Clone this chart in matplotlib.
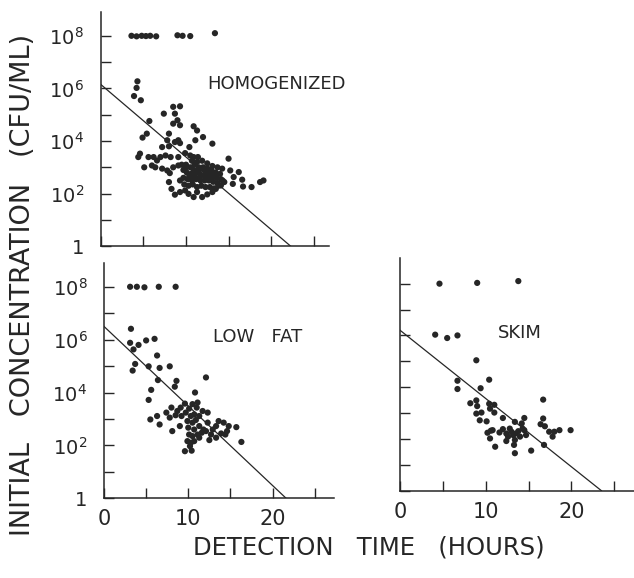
"""Detection time vs initial concentration, three milk types."""

import matplotlib

matplotlib.use("Agg")
import matplotlib.pyplot as plt
import numpy as np
from matplotlib.ticker import FixedLocator, FixedFormatter, NullFormatter

plt.rcParams["font.family"] = ["DejaVu Sans"]
plt.rcParams["mathtext.fontset"] = "dejavusans"

INK = "#262626"

# detection time (hours), log10 of initial concentration (CFU/ML)
homog_hours = [
    3.6, 4.2, 4.8, 5.3, 5.8, 6.5, 9.0, 9.6, 10.5, 13.4,
    4.3, 4.2, 3.9, 4.7, 5.7, 5.4, 4.9, 4.6, 4.4, 5.1, 5.6,
    7.4, 8.5, 9.3, 8.7, 9.0, 8.5, 9.3, 10.9, 11.3, 8.0, 12.0, 7.8, 8.7, 9.1, 9.3,
    11.1, 7.2, 8.0, 10.4, 13.1, 9.9, 10.5, 10.9, 11.4, 15.0,
    6.2, 6.6, 7.0, 7.6, 8.2, 9.1, 6.0, 6.4, 7.2, 7.8, 8.5, 9.1, 8.1,
    15.2, 16.2, 15.6, 16.6, 15.5, 16.7, 17.7, 18.7, 19.1,
    8.0, 8.3, 8.7, 9.3, 9.9, 10.3, 10.9, 11.3, 11.9, 12.5, 13.1, 13.5, 14.1, 14.5,
    9.5, 10.0, 10.5, 11.0, 11.5, 12.0, 12.5, 13.0, 13.5, 14.0,
    9.7, 10.1, 10.6, 11.1, 11.6, 12.1, 12.6, 13.1, 13.6, 14.1,
    9.7, 10.2, 10.7, 11.2, 11.7, 12.2, 12.7, 13.2, 13.7, 14.3,
    9.8, 10.3, 10.8, 11.3, 11.8, 12.3, 12.8, 13.3, 13.8, 9.3,
    10.7, 11.3, 11.9, 12.5, 13.1, 13.7, 14.25, 9.9, 12.1, 12.7,
    10.4, 11.0, 11.6, 12.3, 12.9, 13.4, 10.9, 11.5, 12.4, 13.0,
]
homog_logc = [
    8.0, 7.98, 8.0, 7.99, 8.0, 7.98, 8.02, 8.0, 7.99, 8.1,
    6.27, 6.02, 5.71, 5.55, 4.76, 4.28, 4.13, 3.52, 3.39, 3.0, 3.39,
    5.04, 5.3, 5.32, 5.04, 4.79, 4.66, 4.6, 4.56, 4.4, 4.28, 4.15, 4.03, 3.96, 4.03, 3.92,
    4.03, 3.77, 3.8, 3.77, 3.9, 3.54, 3.45, 3.39, 3.39, 3.33,
    3.39, 3.26, 3.39, 3.45, 3.39, 3.39, 3.07, 3.0, 2.95, 2.88, 3.0, 3.07, 2.78,
    2.88, 2.82, 2.63, 2.53, 2.37, 2.27, 2.25, 2.44, 2.5,
    2.44, 2.18, 1.96, 2.06, 2.12, 1.99, 1.87, 2.06, 1.87, 1.97, 2.06, 2.18, 2.31, 2.44,
    3.1, 3.1, 3.0, 3.1, 3.0, 3.0, 2.95, 2.9, 2.8, 2.75,
    2.9, 2.8, 2.75, 2.8, 2.75, 2.7, 2.75, 2.65, 2.6, 2.55,
    2.6, 2.55, 2.5, 2.55, 2.5, 2.5, 2.5, 2.45, 2.4, 2.5,
    2.35, 2.3, 2.35, 2.25, 2.3, 2.25, 2.25, 2.2, 2.3, 2.5,
    3.25, 3.2, 3.25, 3.15, 3.05, 3.0, 2.95, 2.95, 2.9, 2.65,
    2.65, 2.65, 2.6, 2.6, 2.55, 2.7, 2.9, 2.9, 2.85, 2.8,
]

lowfat_hours = [
    3.1, 3.9, 4.8, 6.5, 8.5,
    3.2, 3.1, 3.5, 4.1, 5.0, 6.0, 3.7, 3.4, 5.3, 6.3, 6.6, 7.8, 6.4, 8.6, 8.4,
    12.1, 5.6, 5.3, 10.8, 5.5, 6.3, 6.6, 8.1, 9.6, 10.4, 16.3, 15.7, 14.8, 14.2,
    13.6, 14.6, 13.9, 13.3, 12.7, 12.3, 12.3, 11.7, 11.1, 11.0, 10.5, 9.6, 9.1,
    8.7, 8.0, 7.4, 7.8, 8.5, 9.2, 9.7, 10.1, 10.3, 10.7, 11.3, 10.9, 10.5, 9.9,
    9.0, 10.0, 10.7, 11.3, 11.8, 10.1, 10.5, 11.1, 11.6, 12.1, 9.9, 10.3, 10.2,
    10.7, 11.3, 12.9, 13.3, 14.4, 12.5,
]
lowfat_logc = [
    8.0, 8.0, 7.98, 8.0, 8.0,
    6.41, 5.88, 5.63, 5.8, 5.97, 6.03, 5.08, 4.83, 4.99, 5.4, 4.93, 4.99, 4.47, 4.44, 4.22,
    4.57, 4.1, 3.72, 4.0, 2.98, 3.11, 2.79, 2.54, 1.78, 1.8, 2.13, 2.69, 2.73, 2.86,
    2.92, 2.54, 2.45, 2.29, 2.41, 2.86, 3.24, 3.3, 3.62, 3.43, 3.56, 3.58, 3.43,
    3.3, 3.43, 3.24, 3.05, 3.14, 3.11, 3.24, 3.39, 3.11, 3.17, 3.11, 2.96, 2.86, 2.92,
    2.73, 2.67, 2.6, 2.73, 2.6, 2.41, 2.35, 2.41, 2.48, 2.54, 2.16, 2.1, 1.97,
    2.16, 2.29, 2.6, 2.73, 2.41, 2.2,
]

skim_hours = [
    4.6, 9.0, 13.8, 4.1, 5.5, 6.7, 8.9, 6.7, 6.7, 10.4, 9.4, 16.7,
    8.2, 8.9, 9.0, 10.4, 11.0, 10.5, 11.0, 8.9, 9.5, 9.3, 10.1,
    12.0, 13.4, 14.5, 14.2, 16.4, 16.9, 16.7, 10.2, 10.6, 10.8, 10.5, 11.1,
    11.6, 12.0, 12.4, 12.6, 12.4, 13.0, 13.2, 13.5, 13.4, 13.3, 13.4,
    13.8, 14.0, 14.5, 14.7, 14.3, 15.3, 16.8, 17.4, 17.8, 18.0, 18.6, 19.9, 12.8,
]
skim_logc = [
    8.0, 8.03, 8.1, 6.03, 5.9, 6.0, 5.04, 4.25, 3.93, 4.29, 3.96, 3.52,
    3.38, 3.49, 3.27, 3.36, 3.32, 3.17, 3.02, 2.98, 3.02, 2.72, 2.68,
    2.81, 2.66, 2.81, 2.6, 2.57, 2.49, 2.79, 2.24, 2.32, 2.34, 2.02, 1.7,
    2.25, 2.38, 2.21, 2.09, 1.92, 2.28, 2.15, 2.21, 1.96, 1.77, 1.45,
    2.3, 2.09, 2.34, 2.15, 2.4, 1.55, 1.77, 2.28, 2.09, 2.28, 2.34, 2.34, 2.4,
]

# regression lines: (hours, log10 conc) at the two ends
homog_fit = ([0.0, 22.3], [6.15, 0.0])
lowfat_fit = ([0.0, 21.6], [6.5, 0.0])
skim_fit = ([0.0, 23.5], [6.2, 0.0])

y_major = [0, 2, 4, 6, 8]
y_minor = [1, 3, 5, 7]
y_labels = ["1", r"$10^{2}$", r"$10^{4}$", r"$10^{6}$", r"$10^{8}$"]
x_major = [0, 10, 20]
x_minor = [5, 15, 25]


def _style(ax, xmax, ymax, xlabels, ylabels):
    ax.set_yscale("log")
    ax.set_xlim(0, xmax)
    ax.set_ylim(1, 10 ** ymax)
    for side in ("top", "right"):
        ax.spines[side].set_visible(False)
    for side in ("left", "bottom"):
        ax.spines[side].set_color(INK)
        ax.spines[side].set_linewidth(1.1)

    ax.yaxis.set_major_locator(FixedLocator([10.0 ** v for v in y_major]))
    ax.yaxis.set_minor_locator(FixedLocator([10.0 ** v for v in y_minor]))
    ax.yaxis.set_minor_formatter(NullFormatter())
    if ylabels:
        ax.yaxis.set_major_formatter(FixedFormatter(y_labels))
    else:
        ax.yaxis.set_major_formatter(NullFormatter())

    ax.xaxis.set_major_locator(FixedLocator(x_major))
    ax.xaxis.set_minor_locator(FixedLocator(x_minor))
    if xlabels:
        ax.xaxis.set_major_formatter(FixedFormatter([str(v) for v in x_major]))
    else:
        ax.xaxis.set_major_formatter(NullFormatter())

    ax.tick_params(axis="both", which="both", direction="in", length=7,
                   width=1.0, color=INK, labelcolor=INK)
    ax.tick_params(axis="y", which="major", pad=12, labelsize=14)
    ax.tick_params(axis="x", which="major", pad=8, labelsize=15)


def _panel(ax, hours, logc, fit, name, name_pos, xlabels, ylabels, xmax, ymax):
    _style(ax, xmax, ymax, xlabels, ylabels)
    ax.scatter(hours, 10.0 ** np.asarray(logc), s=20, color=INK,
               edgecolors="none", zorder=3, clip_on=False)
    ax.plot(fit[0], 10.0 ** np.asarray(fit[1]), color=INK, linewidth=0.9)
    ax.text(name_pos[0], 10 ** name_pos[1], name, ha="left", va="center",
            fontsize=13, color=INK)


fig = plt.figure(figsize=(6.34, 5.78), dpi=100)

ax1 = fig.add_axes([0.159, 0.574, 0.36, 0.405])
_panel(ax1, homog_hours, homog_logc, homog_fit, "HOMOGENIZED", (12.5, 6.17),
       False, True, 26.8, 8.9)

ax2 = fig.add_axes([0.164, 0.138, 0.363, 0.407])
_panel(ax2, lowfat_hours, lowfat_logc, lowfat_fit, "LOW   FAT", (12.9, 6.1),
       True, True, 27.3, 8.9)

ax3 = fig.add_axes([0.631, 0.151, 0.369, 0.403])
_panel(ax3, skim_hours, skim_logc, skim_fit, "SKIM", (11.4, 6.1),
       True, False, 27.3, 9.0)

fig.text(0.036, 0.507, "INITIAL   CONCENTRATION   (CFU/ML)", rotation=90,
         ha="center", va="center", fontsize=19.5, color=INK)
fig.text(0.582, 0.052, "DETECTION   TIME   (HOURS)", ha="center", va="center",
         fontsize=17.5, color=INK)

fig.savefig("out.png", dpi=100)
plt.close(fig)
